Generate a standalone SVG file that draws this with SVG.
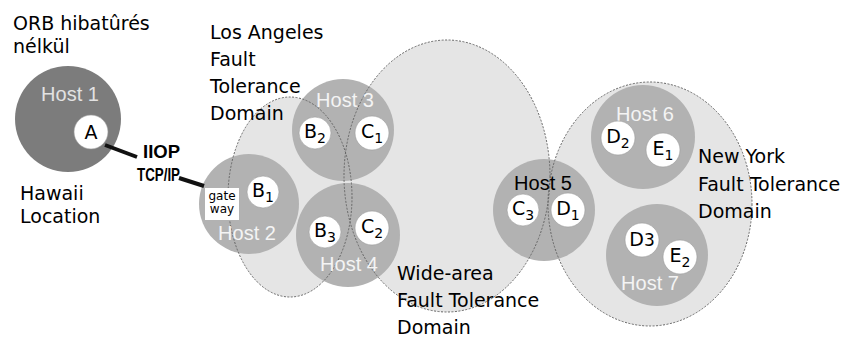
<svg xmlns="http://www.w3.org/2000/svg" width="848" height="340" viewBox="0 0 848 340">
  <defs>
    <style>
      .domain { fill: #e5e5e5; stroke: none; }
      .border { fill: none; stroke: #666666; stroke-width: 1; stroke-dasharray: 2 1.5; }
      .host { fill: #b2b2b2; }
      .host-dark { fill: #7c7c7c; }
      .hlabel { font-family: "Liberation Sans", Arial, sans-serif; font-size: 20px; fill: #f4f4f4; text-anchor: middle; }
      .obj { fill: #ffffff; stroke: #9a9a9a; stroke-width: 0.6; }
      .olabel { font-family: "DejaVu Sans", sans-serif; font-size: 19px; fill: #000; text-anchor: middle; }
      .sub { font-size: 14px; }
      .label { font-family: "DejaVu Sans", sans-serif; font-size: 19px; fill: #000; }
      .gw { font-family: "DejaVu Sans", sans-serif; font-size: 12px; fill: #000; text-anchor: middle; }
      .proto { font-family: "Liberation Sans", Arial, sans-serif; font-size: 19px; font-weight: bold; fill: #000; }
      .link { stroke: #111; stroke-width: 4; stroke-linecap: butt; }
    </style>
  </defs>

  <rect width="848" height="340" fill="#ffffff"/>

  <!-- fault tolerance domains (fills) -->
  <g id="domain-la"><ellipse class="domain" cx="290" cy="197" rx="62" ry="100"/></g>
  <g id="domain-wide"><ellipse class="domain" cx="447" cy="176" rx="103" ry="136"/></g>
  <g id="domain-ny"><ellipse class="domain" cx="650" cy="204" rx="102" ry="122"/></g>

  <!-- hosts -->
  <g id="host1"><circle class="host-dark" cx="68" cy="119" r="53"/></g>
  <g id="host2"><circle class="host" cx="249" cy="204" r="50"/></g>
  <g id="host3"><circle class="host" cx="343" cy="130" r="51"/></g>
  <g id="host4"><circle class="host" cx="348" cy="235" r="52"/></g>
  <g id="host5"><circle class="host" cx="544" cy="210" r="51"/></g>
  <g id="host6"><circle class="host" cx="643" cy="137" r="52"/></g>
  <g id="host7"><circle class="host" cx="657" cy="255" r="51"/></g>

  <!-- dotted domain boundaries, drawn over the hosts -->
  <g id="domain-borders">
    <ellipse class="border" cx="290" cy="197" rx="62" ry="100"/>
    <ellipse class="border" cx="447" cy="176" rx="103" ry="136"/>
    <ellipse class="border" cx="650" cy="204" rx="102" ry="122"/>
  </g>

  <!-- host names -->
  <g id="host-labels">
    <text class="hlabel" x="70" y="101" style="fill:#e2e2e2">Host 1</text>
    <text class="hlabel" x="247" y="240">Host 2</text>
    <text class="hlabel" x="345" y="107">Host 3</text>
    <text class="hlabel" x="349" y="271">Host 4</text>
    <text class="hlabel" x="543" y="190" style="fill:#000">Host 5</text>
    <text class="hlabel" x="645" y="121">Host 6</text>
    <text class="hlabel" x="650" y="290">Host 7</text>
  </g>

  <!-- replicated objects -->
  <g id="obj-A"><circle class="obj" cx="91" cy="132" r="17"/><text class="olabel" x="91" y="139">A</text></g>
  <g id="obj-B1"><circle class="obj" cx="263" cy="192" r="16"/><text class="olabel" x="263" y="197">B<tspan class="sub" dy="5">1</tspan></text></g>
  <g id="obj-B2"><circle class="obj" cx="315" cy="133" r="16"/><text class="olabel" x="315" y="138">B<tspan class="sub" dy="5">2</tspan></text></g>
  <g id="obj-C1"><circle class="obj" cx="372" cy="133" r="17"/><text class="olabel" x="372" y="138">C<tspan class="sub" dy="5">1</tspan></text></g>
  <g id="obj-B3"><circle class="obj" cx="325" cy="232" r="16"/><text class="olabel" x="325" y="237">B<tspan class="sub" dy="5">3</tspan></text></g>
  <g id="obj-C2"><circle class="obj" cx="372" cy="228" r="17"/><text class="olabel" x="372" y="233">C<tspan class="sub" dy="5">2</tspan></text></g>
  <g id="obj-C3"><circle class="obj" cx="523" cy="210" r="16"/><text class="olabel" x="523" y="215">C<tspan class="sub" dy="5">3</tspan></text></g>
  <g id="obj-D1"><circle class="obj" cx="568" cy="210" r="17"/><text class="olabel" x="568" y="215">D<tspan class="sub" dy="5">1</tspan></text></g>
  <g id="obj-D2"><circle class="obj" cx="618" cy="138" r="17"/><text class="olabel" x="618" y="143">D<tspan class="sub" dy="5">2</tspan></text></g>
  <g id="obj-E1"><circle class="obj" cx="663" cy="150" r="17"/><text class="olabel" x="663" y="155">E<tspan class="sub" dy="5">1</tspan></text></g>
  <g id="obj-D3"><circle class="obj" cx="642" cy="240" r="17"/><text class="olabel" x="642" y="246">D<tspan font-size="17">3</tspan></text></g>
  <g id="obj-E2"><circle class="obj" cx="680" cy="257" r="17"/><text class="olabel" x="680" y="262">E<tspan class="sub" dy="5">2</tspan></text></g>

  <!-- gateway on host 2 -->
  <g id="gateway">
    <rect x="205" y="188" width="34" height="32" fill="#ffffff"/>
    <text class="gw" x="222" y="200">gate</text>
    <text class="gw" x="222" y="213">way</text>
  </g>

  <!-- IIOP link from A to the gateway -->
  <g id="connectors">
    <line class="link" x1="105" y1="145" x2="137" y2="157"/>
    <line class="link" x1="179" y1="178" x2="204" y2="186"/>
  </g>
  <g id="link-label">
    <text class="proto" x="143" y="158" textLength="37" lengthAdjust="spacingAndGlyphs">IIOP</text>
    <text class="proto" x="137" y="181" textLength="43" lengthAdjust="spacingAndGlyphs">TCP/IP</text>
  </g>

  <!-- captions -->
  <g id="captions">
    <text class="label" x="13" y="30">ORB hibatûrés</text>
    <text class="label" x="13" y="53">nélkül</text>
    <text class="label" x="20" y="200">Hawaii</text>
    <text class="label" x="20" y="223">Location</text>

    <text class="label" x="210" y="39">Los Angeles</text>
    <text class="label" x="210" y="66">Fault</text>
    <text class="label" x="210" y="93">Tolerance</text>
    <text class="label" x="210" y="120">Domain</text>

    <text class="label" x="397" y="280">Wide-area</text>
    <text class="label" x="397" y="307">Fault Tolerance</text>
    <text class="label" x="397" y="334">Domain</text>

    <text class="label" x="698" y="163">New York</text>
    <text class="label" x="698" y="191">Fault Tolerance</text>
    <text class="label" x="698" y="218">Domain</text>
  </g>
</svg>
